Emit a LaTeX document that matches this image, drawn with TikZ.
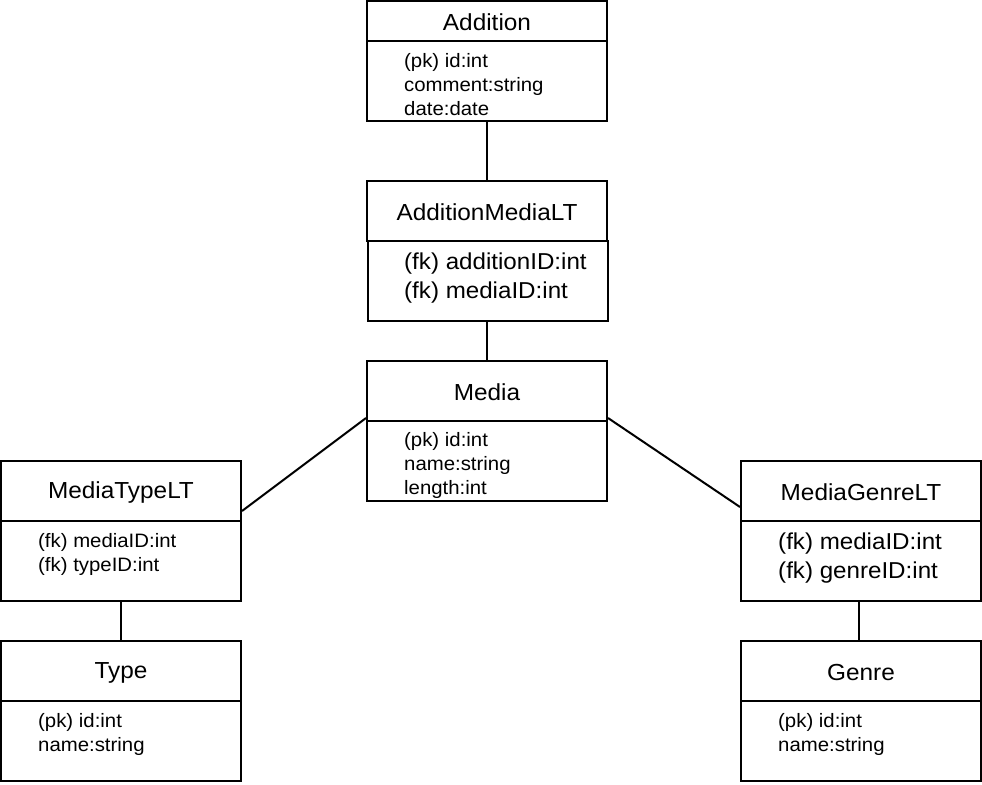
\documentclass[tikz,border=0pt]{standalone}
\usepackage{fontspec}
\setmainfont{Liberation Sans}[FakeStretch=1.05]
\usetikzlibrary{calc}
\begin{document}
\begin{tikzpicture}[x=1pt,y=-1pt,
  hdr/.style={draw, line width=2pt, minimum width=240pt, minimum height=60pt, inner sep=0pt, font=\fontsize{23.2}{28}\selectfont},
  hdrshort/.style={hdr, minimum height=40pt},
  bodybox/.style={draw, line width=2pt, minimum width=240pt, minimum height=80pt, inner sep=0pt},
  ttl/.style={inner sep=0pt, font=\fontsize{23.2}{28}\selectfont},
  smalltxt/.style={anchor=base west, inner sep=0pt, font=\fontsize{19.4}{24}\selectfont},
  largetxt/.style={anchor=base west, inner sep=0pt, font=\fontsize{23}{29}\selectfont},
  conn/.style={line width=2pt}]
\useasboundingbox (0,0) rectangle (982,784);

% Addition
\node[hdrshort] (addh) at (487,21) {};
\node[ttl] (addn) at (487,22.5) {Addition};
\node[bodybox] (addb) at (487,81) {};
\node[smalltxt] (addt1) at (404,67) {(pk) id:int};
\node[smalltxt] (addt2) at (404,91) {comment:string};
\node[smalltxt] (addt3) at (404,115) {date:date};

% AdditionMediaLT
\node[hdr] (amh) at (487,211) {};
\node[ttl] (amn) at (487,212.5) {AdditionMediaLT};
\node[bodybox] (amb) at (488,281) {};
\node[largetxt] (amt1) at (404,269) {(fk) additionID:int};
\node[largetxt] (amt2) at (404,298) {(fk) mediaID:int};

% Media
\node[hdr] (mh) at (487,391) {};
\node[ttl] (mn) at (487,392.5) {Media};
\node[bodybox] (mb) at (487,461) {};
\node[smalltxt] (mt1) at (404,446) {(pk) id:int};
\node[smalltxt] (mt2) at (404,470) {name:string};
\node[smalltxt] (mt3) at (404,494) {length:int};

% MediaTypeLT
\node[hdr] (mtlh) at (121,491) {};
\node[ttl] (mtln) at (121,492.5) {MediaTypeLT};
\node[bodybox] (mtlb) at (121,561) {};
\node[smalltxt] (mtlt1) at (38,547) {(fk) mediaID:int};
\node[smalltxt] (mtlt2) at (38,571) {(fk) typeID:int};

% Type
\node[hdr] (th) at (121,671) {};
\node[ttl] (tn) at (121,672.5) {Type};
\node[bodybox] (tb) at (121,741) {};
\node[smalltxt] (tt1) at (38,727) {(pk) id:int};
\node[smalltxt] (tt2) at (38,751) {name:string};

% MediaGenreLT
\node[hdr] (mglh) at (861,491) {};
\node[ttl] (mgln) at (861,492.5) {MediaGenreLT};
\node[bodybox] (mglb) at (861,561) {};
\node[largetxt] (mglt1) at (778,549) {(fk) mediaID:int};
\node[largetxt] (mglt2) at (778,578) {(fk) genreID:int};

% Genre
\node[hdr] (gh) at (861,671) {};
\node[ttl] (gn) at (861,672.5) {Genre};
\node[bodybox] (gb) at (861,741) {};
\node[smalltxt] (gt1) at (778,727) {(pk) id:int};
\node[smalltxt] (gt2) at (778,751) {name:string};

% connectors
\draw[conn] (addb.south) -- (amh.north);
\draw[conn] (amb.south -| mh.north) -- (mh.north);
\coordinate (mL) at ($(mh.south west)+(0,-4)$);
\coordinate (mR) at ($(mh.south east)+(0,-4)$);
\coordinate (tlR) at ($(mtlh.south east)+(0,-11)$);
\coordinate (glL) at ($(mglh.south west)+(0,-15)$);
\draw[conn] (mL) -- (tlR);
\draw[conn] (mR) -- (glL);
\draw[conn] (mtlb.south) -- (th.north);
\draw[conn] ($(mglb.south)+(-2,0)$) -- ($(gh.north)+(-2,0)$);
\end{tikzpicture}
\end{document}
